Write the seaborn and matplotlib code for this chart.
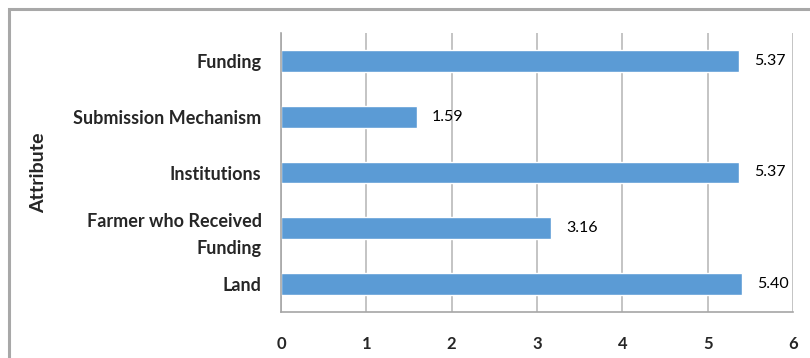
import matplotlib
matplotlib.use('Agg')
import matplotlib.pyplot as plt
from matplotlib.patches import Rectangle
import numpy as np
import pandas as pd
import seaborn as sns

# Data
attributes = ["Funding", "Submission Mechanism", "Institutions",
              "Farmer who Received\nFunding", "Land"]
scores = [5.37, 1.59, 5.37, 3.16, 5.40]
score_labels = ["5.37", "1.59", "5.37", "3.16", "5.40"]
x_ticks = [0, 1, 2, 3, 4, 5, 6]

df = pd.DataFrame({"Attribute": attributes, "Score": scores})

sns.set_style("white")
plt.rcParams['font.family'] = ['Lato', 'DejaVu Sans']

fig = plt.figure(figsize=(8.1, 3.58), dpi=100)
ax = fig.add_axes([281 / 810, 1 - 312 / 358, 512 / 810, 279 / 358])

sns.barplot(data=df, x="Score", y="Attribute", orient="h", color="#5B9BD5",
            saturation=1, width=0.39, ax=ax)

# value labels
ax.bar_label(ax.containers[0], labels=score_labels, padding=11,
             fontsize=11.5, color="black")

ax.set_xlim(0, 6)
ax.set_ylim(4.5, -0.5)
ax.set_xticks(x_ticks)
ax.set_xticklabels([str(t) for t in x_ticks], fontsize=12, fontweight="bold")
ax.grid(axis="x", color="#BFBFBF", linewidth=1.3)
ax.set_axisbelow(True)

# y tick marks on category boundaries, labels at centres
ax.set_yticks(np.arange(len(attributes)))
ax.set_yticklabels(attributes, fontsize=13, fontweight="bold",
                   linespacing=1.75)
ax.tick_params(axis="y", length=0, pad=14)
ax.set_yticks(np.arange(-0.5, len(attributes)), minor=True)
ax.tick_params(axis="y", which="minor", length=6, width=1.2, color="#A6A6A6",
               direction="out")
ax.tick_params(axis="x", length=6, width=1.2, color="#A6A6A6",
               direction="out", pad=11)

for side in ["top", "right"]:
    ax.spines[side].set_visible(False)
for side in ["left", "bottom"]:
    ax.spines[side].set_color("#A6A6A6")
    ax.spines[side].set_linewidth(1.2)

ax.set_xlabel("")
ax.set_ylabel("Attribute", fontsize=14, fontweight="bold")
ax.yaxis.set_label_coords(-0.457, 0.5)

# outer chart frame (cropped by the image edge)
fig.patches.append(Rectangle((9 / 810, -0.2), 1.2, 1.2 - 9 / 358,
                             transform=fig.transFigure, fill=False,
                             edgecolor="#A8A8A8", linewidth=2.2))

fig.savefig("out.png", dpi=100)
plt.close()
